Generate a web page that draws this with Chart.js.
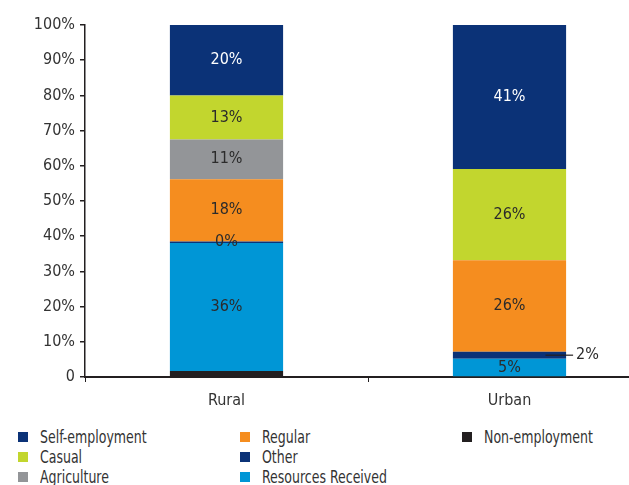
<!DOCTYPE html>
<html>
<head>
<meta charset="utf-8">
<script src="https://cdn.jsdelivr.net/npm/chart.js@4"></script>
<style>
  html, body { margin: 0; padding: 0; background: #fff; overflow: hidden; }
  body { width: 629px; height: 485px; position: relative; font-family: 'Liberation Sans Narrow', 'DejaVu Sans Condensed', sans-serif; }
  #wrap { position: absolute; left: 0; top: 0; width: 660px; height: 420px; }
  .leg { position: absolute; height: 20px; }
  .leg span { position: absolute; left: -22px; top: 5px; width: 10px; height: 10px; }
  .leg b { position: absolute; left: 0; top: 0; font-weight: normal; font-size: 17px; color: #333; line-height: 20px; white-space: nowrap; transform: scaleX(0.82); transform-origin: left center; }
</style>
</head>
<body>
<div id="wrap"><canvas id="grafico"></canvas></div>
<div id="leyenda"></div>
<script>
const categories = ['Rural', 'Urban'];
const yTicks = [0, 10, 20, 30, 40, 50, 60, 70, 80, 90, 100];

// stacked bottom to top
const nonEmployment = [1.7, 0];
const resourcesReceived = [36.4, 5.2];
const other = [0.4, 2.0];
const regular = [17.7, 26.0];
const agriculture = [11.3, 0];
const casual = [12.5, 25.9];
const selfEmployment = [20.0, 40.9];

const legendOrder = ['Self-employment', 'Casual', 'Agriculture', 'Regular', 'Other', 'Resources Received', 'Non-employment'];

const series = [
  { label: 'Non-employment', data: nonEmployment, color: '#231f20', txt: '#fff' },
  { label: 'Resources Received', data: resourcesReceived, color: '#0096d6', txt: '#2b2b2b' },
  { label: 'Other', data: other, color: '#0b3277', txt: '#2b2b2b' },
  { label: 'Regular', data: regular, color: '#f58d1f', txt: '#2b2b2b' },
  { label: 'Agriculture', data: agriculture, color: '#939598', txt: '#2b2b2b' },
  { label: 'Casual', data: casual, color: '#c2d62e', txt: '#2b2b2b' },
  { label: 'Self-employment', data: selfEmployment, color: '#0b3277', txt: '#ffffff' }
];

const fuente = "'Liberation Sans Narrow', 'DejaVu Sans Condensed', sans-serif";
const ejeColor = '#231f20';

const etiquetas = {
  id: 'etiquetas',
  afterDatasetsDraw(chart) {
    const ctx = chart.ctx;
    ctx.save();
    ctx.font = '16px ' + fuente;
    ctx.textBaseline = 'middle';
    chart.data.datasets.forEach((ds, i) => {
      const meta = chart.getDatasetMeta(i);
      meta.data.forEach((bar, j) => {
        const v = ds.data[j];
        if (!v || ds.label === 'Non-employment') return;
        const txt = Math.round(v) + '%';
        const yc = (bar.y + bar.base) / 2;
        if (ds.label === 'Other' && j === 1) {
          ctx.strokeStyle = ejeColor;
          ctx.lineWidth = 1.2;
          ctx.beginPath();
          ctx.moveTo(bar.x + 36, yc);
          ctx.lineTo(bar.x + bar.width / 2 + 7, yc);
          ctx.stroke();
          ctx.fillStyle = '#2b2b2b';
          ctx.textAlign = 'left';
          ctx.fillText(txt, bar.x + bar.width / 2 + 10, yc);
          return;
        }
        ctx.fillStyle = series[i].txt;
        ctx.textAlign = 'center';
        ctx.fillText(txt, bar.x, yc);
      });
    });
    ctx.restore();
  }
};

new Chart(document.getElementById('grafico'), {
  type: 'bar',
  data: {
    labels: categories,
    datasets: series.map(s => ({
      label: s.label,
      data: s.data,
      backgroundColor: s.color,
      borderWidth: 0,
      barPercentage: 0.4,
      categoryPercentage: 1
    }))
  },
  options: {
    responsive: true,
    maintainAspectRatio: false,
    animation: false,
    layout: { padding: { top: 25, right: 9, left: 0, bottom: 0 } },
    plugins: { legend: { display: false }, tooltip: { enabled: false } },
    scales: {
      x: {
        stacked: true,
        offset: true,
        afterFit(scale) { scale.height = 43; },
        grid: { offset: true, drawOnChartArea: false, drawTicks: true, tickLength: 5, color: ejeColor, lineWidth: 1 },
        border: { display: true, color: ejeColor, width: 2 },
        ticks: { color: '#333', padding: 9, font: { family: fuente, size: 16 } }
      },
      y: {
        stacked: true,
        min: 0,
        max: 100,
        afterFit(scale) { scale.width = 85; },
        afterBuildTicks(scale) { scale.ticks = yTicks.map(v => ({ value: v })); },
        grid: { drawOnChartArea: false, drawTicks: true, tickLength: 5, color: ejeColor, lineWidth: 1.5 },
        border: { display: true, color: ejeColor, width: 1.5 },
        ticks: {
          color: '#333',
          padding: 5,
          font: { family: fuente, size: 16 },
          callback: v => v === 0 ? '0' : v + '%'
        }
      }
    }
  },
  plugins: [etiquetas]
});

// leyenda en tres columnas
const leyenda = document.getElementById('leyenda');
const colX = [40, 262, 484];
const filaY = [427, 447, 467];
legendOrder.forEach((nombre, k) => {
  const s = series.find(d => d.label === nombre);
  const div = document.createElement('div');
  div.className = 'leg';
  div.style.left = colX[Math.floor(k / 3)] + 'px';
  div.style.top = filaY[k % 3] + 'px';
  div.innerHTML = '<span style="background:' + s.color + '"></span><b>' + nombre + '</b>';
  leyenda.appendChild(div);
});
</script>
</body>
</html>
